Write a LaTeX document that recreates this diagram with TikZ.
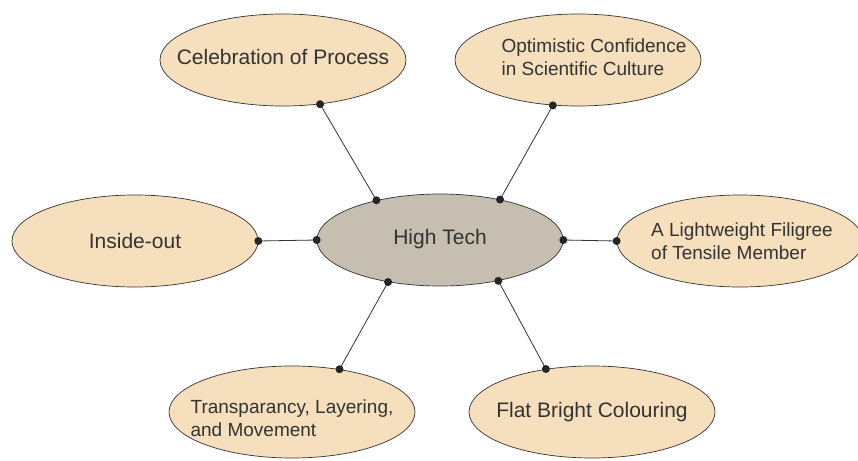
\documentclass[tikz,border=0pt]{standalone}
\usepackage{fontspec}
\setmainfont{Liberation Sans}
\usetikzlibrary{shapes.geometric}
\definecolor{topicfill}{HTML}{F6DFBC}
\definecolor{hubfill}{HTML}{C6BEB0}
\definecolor{inkgray}{HTML}{333333}
\tikzset{%
  topic/.style={ellipse, draw=inkgray, line width=0.7pt, fill=topicfill,
    minimum width=246pt, minimum height=92pt, inner sep=0pt},
  hub/.style={topic, fill=hubfill},
  topictext/.style={text=inkgray, inner sep=0pt, font=\fontsize{21}{25}\selectfont},
  topictwo/.style={topictext, align=left, font=\fontsize{19}{23}\selectfont},
  link/.style={draw=inkgray, line width=0.8pt}
}

\begin{document}
\begin{tikzpicture}[x=1pt,y=-1pt]
  \useasboundingbox (0,0) rectangle (858,460);

  \node[hub, label={[topictext, yshift=1pt]center:High Tech}] (ht) at (440,240) {};
  \node[topic, label={[topictext, yshift=3pt]center:Celebration of Process}] (cp) at (283,60) {};
  \node[topic, label={[topictwo, xshift=16pt, yshift=3pt]center:Optimistic Confidence\\in Scientific Culture}] (oc) at (578,60) {};
  \node[topic, label={[topictext]center:Inside-out}] (io) at (135,241) {};
  \node[topic, label={[topictwo, xshift=2pt]center:A Lightweight Filigree\\of Tensile Member}] (lw) at (740,241) {};
  \node[topic, label={[topictwo, yshift=-6pt]center:Transparancy, Layering,\\and Movement}] (tl) at (292,412) {};
  \node[topic, label={[topictext]center:Flat Bright Colouring}] (fb) at (592,412) {};

  \draw [link] (ht.148) -- (cp.310);
  \draw [link] (ht.34) -- (oc.241);
  \draw [link] (ht.180) -- (io.0);
  \draw [link] (ht.0) -- (lw.180);
  \draw [link] (ht.219) -- (tl.42);
  \draw [link] (ht.325) -- (fb.137);

  \fill [black!85] (ht.148) circle (4pt) (cp.310) circle (4pt);
  \fill [black!85] (ht.34) circle (4pt) (oc.241) circle (4pt);
  \fill [black!85] (ht.180) circle (4pt) (io.0) circle (4pt);
  \fill [black!85] (ht.0) circle (4pt) (lw.180) circle (4pt);
  \fill [black!85] (ht.219) circle (4pt) (tl.42) circle (4pt);
  \fill [black!85] (ht.325) circle (4pt) (fb.137) circle (4pt);
\end{tikzpicture}
\end{document}
